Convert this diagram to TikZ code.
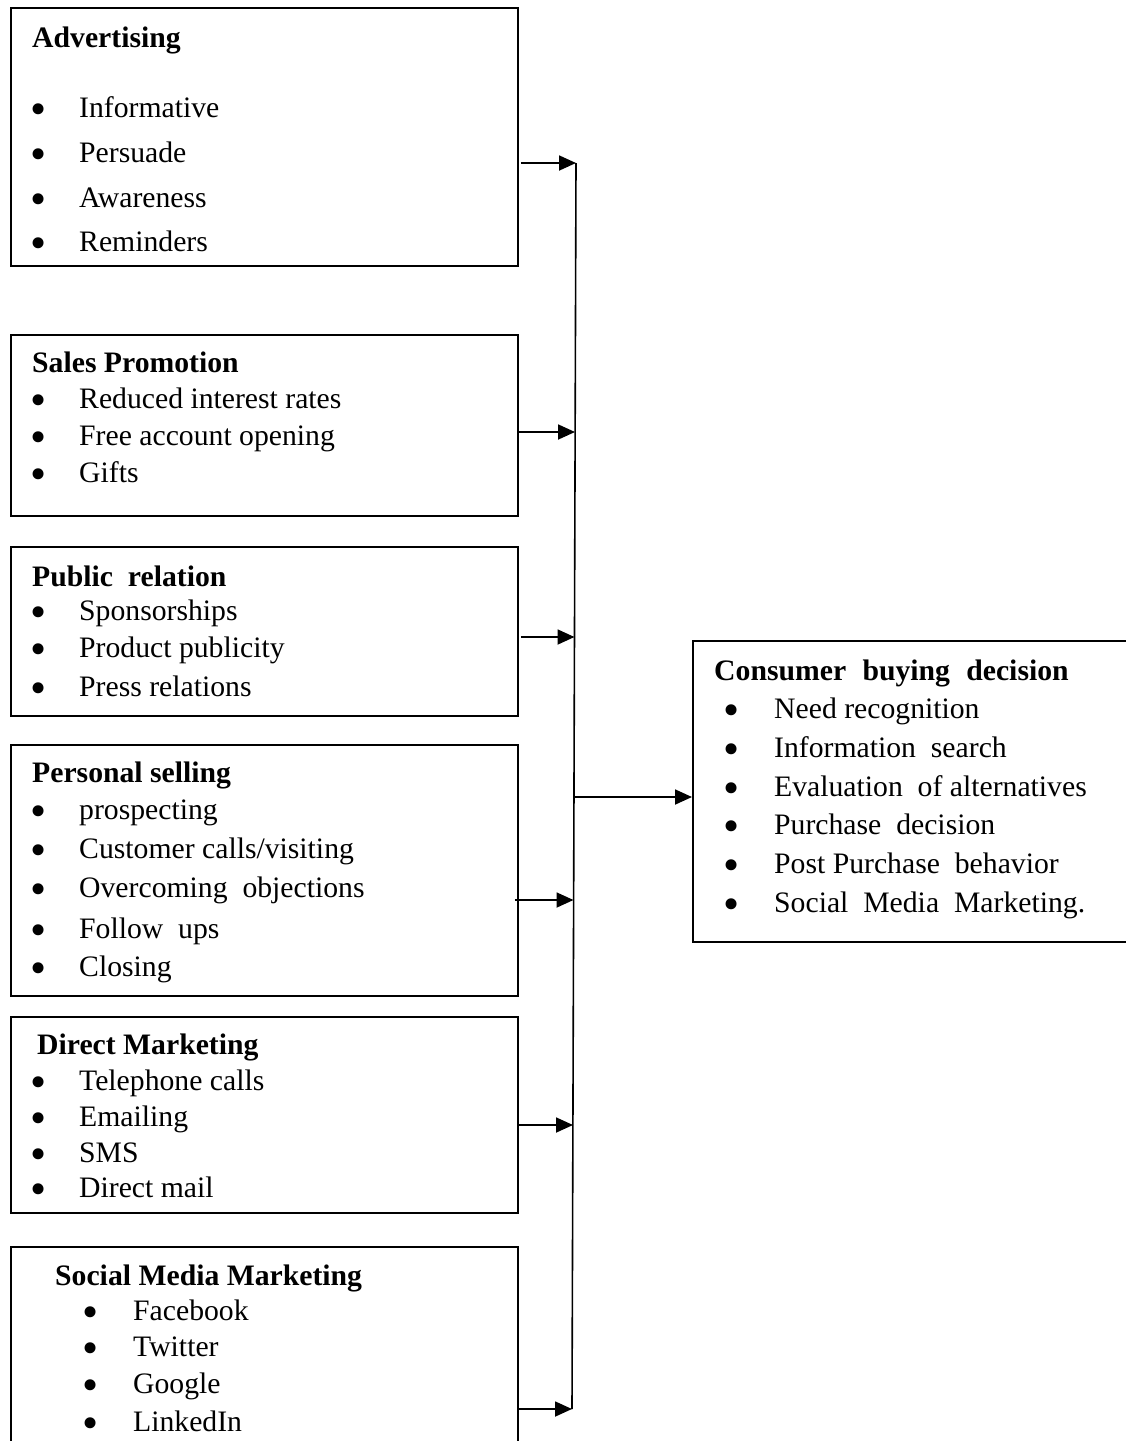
\documentclass[tikz,border=0pt]{standalone}
\usepackage{fontspec}
\setmainfont{Liberation Serif}
\usetikzlibrary{arrows.meta,calc}
\begin{document}
\begin{tikzpicture}[x=1pt,y=-1pt,
  box/.style={draw, line width=1.8pt, rectangle, anchor=north west, inner sep=0pt},
  ttl/.style={anchor=base west, inner sep=0pt, font=\fontsize{29.7}{32}\selectfont\bfseries},
  itm/.style={anchor=base west, inner sep=0pt, font=\fontsize{29.7}{32}\selectfont},
  bul/.style={anchor=base, inner sep=0pt, text height=14pt, text depth=0pt, yshift=-7.9pt, font=\fontsize{46}{48}\selectfont},
  link/.style={line width=1.8pt, -{Triangle[length=17pt,width=15pt]}},
  trunk/.style={line width=1.6pt}]
\useasboundingbox (0,0) rectangle (1125,1441);

% boxes
\node[box, minimum width=507pt, minimum height=258pt] (adv) at (10,7) {};
\node[box, minimum width=507pt, minimum height=181pt] (sp)  at (10,334) {};
\node[box, minimum width=507pt, minimum height=169pt] (pr)  at (10,546) {};
\node[box, minimum width=507pt, minimum height=251pt] (ps)  at (10,744) {};
\node[box, minimum width=507pt, minimum height=196pt] (dm)  at (10,1016) {};
\node[box, minimum width=507pt, minimum height=220pt] (smm) at (10,1246) {};
\node[box, minimum width=450pt, minimum height=301pt] (cbd) at (692,640) {};

% Advertising
\node[ttl] (advt) at (32,47) {Advertising};
\foreach \y/\t [count=\i] in {117/Informative,162/Persuade,207/Awareness,251/Reminders}
  {\node[bul] (advb\i) at (38.5,\y) {•}; \node[itm] (advi\i) at (79,\y) {\t};}

% Sales Promotion
\node[ttl] (spt) at (32,372) {Sales Promotion};
\foreach \y/\t [count=\i] in {408/{Reduced interest rates},445/{Free account opening},482/Gifts}
  {\node[bul] (spb\i) at (38.5,\y) {•}; \node[itm] (spi\i) at (79,\y) {\t};}

% Public relation
\node[ttl] (prt) at (32,586) {Public\ \ relation};
\foreach \y/\t [count=\i] in {620/Sponsorships,657/{Product publicity},696/{Press relations}}
  {\node[bul] (prb\i) at (38.5,\y) {•}; \node[itm] (pri\i) at (79,\y) {\t};}

% Personal selling
\node[ttl] (pst) at (32,782) {Personal selling};
\foreach \y/\t [count=\i] in {819/prospecting,858/{Customer calls/visiting},897/{Overcoming\ \ objections},938/{Follow\ \ ups},976/Closing}
  {\node[bul] (psb\i) at (38.5,\y) {•}; \node[itm] (psi\i) at (79,\y) {\t};}

% Direct Marketing
\node[ttl] (dmt) at (37,1054) {Direct Marketing};
\foreach \y/\t [count=\i] in {1090/{Telephone calls},1126/Emailing,1162/SMS,1197/{Direct mail}}
  {\node[bul] (dmb\i) at (38.5,\y) {•}; \node[itm] (dmi\i) at (79,\y) {\t};}

% Social Media Marketing
\node[ttl] (smt) at (55,1285) {Social Media Marketing};
\foreach \y/\t [count=\i] in {1320/Facebook,1356/Twitter,1393/Google,1431/LinkedIn}
  {\node[bul] (smb\i) at (91,\y) {•}; \node[itm] (smi\i) at (133,\y) {\t};}

% Consumer buying decision
\node[ttl] (cbt) at (714,680) {Consumer\hspace{0.3em} buying\hspace{0.3em} decision};
\foreach \y/\t [count=\i] in {718/{Need recognition},757/{Information\ \ search},796/{Evaluation\ \ of alternatives},834/{Purchase\ \ decision},873/{Post Purchase\ \ behavior},912/{Social\ \ Media\ \ Marketing.}}
  {\node[bul] (cbb\i) at (732,\y) {•}; \node[itm] (cbi\i) at (774,\y) {\t};}

% trunk
\coordinate (ttop) at (576,163);
\coordinate (tbot) at (572,1409);
\draw[trunk] (ttop) -- (tbot);
\coordinate (j1) at (576,163);
\coordinate (j2) at (575,432);
\coordinate (j3) at (574.5,637);
\coordinate (j4) at (573.5,900);
\coordinate (j5) at (573,1125);
\coordinate (j6) at (572,1409);
\coordinate (jm) at (574,797);

\draw[link] (adv.east |- j1) ++(2,0) -- (j1);
\draw[link] (sp.east |- j2) -- (j2);
\draw[link] (pr.east |- j3) ++(2,0) -- (j3);
\draw[link] (ps.east |- j4) ++(-4,0) -- (j4);
\draw[link] (dm.east |- j5) -- (j5);
\draw[link] (smm.east |- j6) -- (j6);
\draw[link] (jm) -- (cbd.west |- jm);
\end{tikzpicture}
\end{document}
